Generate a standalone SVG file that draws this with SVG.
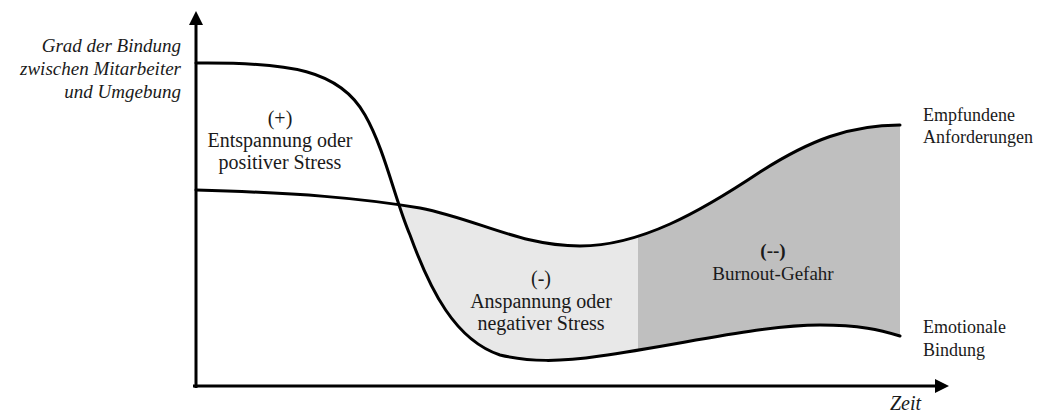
<svg xmlns="http://www.w3.org/2000/svg" width="1047" height="414" viewBox="0 0 1047 414">
<style>
.t{fill:#1a1a1a}
.c{text-anchor:middle}
.r{text-anchor:end}
.curve{fill:none;stroke:#000;stroke-width:3;stroke-linecap:round}
.axis{stroke:#000;stroke-width:3;fill:none}
</style>
<defs>
<path id="band" d="M196,190 C300,193 360,198 420,208 C480,220 520,246 580,246 C640,246 700,212 760,172 C810,140 850,125 900,125 L900,336 C880,330 860,325 820,325 C760,325 680,345 600,356 C560,362 530,362 500,355 C455,340 430,290 410,235 C395,200 385,150 365,115 C340,70 290,62 196,63 Z"/>
<clipPath id="cl"><rect x="400" y="0" width="238" height="414"/></clipPath>
<clipPath id="cd"><rect x="638" y="0" width="262" height="414"/></clipPath>
</defs>
<g id="regions">
<use href="#band" fill="#e8e8e8" clip-path="url(#cl)"/>
<use href="#band" fill="#bfbfbf" clip-path="url(#cd)"/>
</g>
<g id="axes">
<line class="axis" x1="196" y1="388" x2="196" y2="24"/>
<polygon points="196,11 189,25 203,25" fill="#000"/>
<line class="axis" x1="193" y1="386" x2="936" y2="386"/>
<polygon points="949,386 935,379 935,393" fill="#000"/>
</g>
<g id="connectors">
<path id="bindung" class="curve" d="M196,63 C290,62 340,70 365,115 C385,150 395,200 410,235 C430,290 455,340 500,355 C530,362 560,362 600,356 C680,345 760,325 820,325 C860,325 880,330 900,336"/>
<path id="anforderungen" class="curve" d="M196,190 C300,193 360,198 420,208 C480,220 520,246 580,246 C640,246 700,212 760,172 C810,140 850,125 900,125"/>
</g>
<g id="ylabel" font-family="Liberation Serif, serif" font-style="italic" font-size="19">
<text class="t r" x="181" y="52">Grad der Bindung</text>
<text class="t r" x="181" y="75">zwischen Mitarbeiter</text>
<text class="t r" x="181" y="98">und Umgebung</text>
</g>
<g id="xlabel" font-family="Liberation Serif, serif" font-style="italic" font-size="20"><text class="t r" x="921" y="410">Zeit</text></g>
<g id="plus" font-family="Liberation Serif, serif" font-size="20">
<text class="t c" x="280" y="125">(+)</text>
<text class="t c" x="280" y="147">Entspannung oder</text>
<text class="t c" x="280" y="169">positiver Stress</text>
</g>
<g id="minus" font-family="Liberation Serif, serif" font-size="20">
<text class="t c" x="541" y="285">(-)</text>
<text class="t c" x="541" y="308">Anspannung oder</text>
<text class="t c" x="541" y="330">negativer Stress</text>
</g>
<g id="burnout" font-family="Liberation Serif, serif" font-size="19">
<text class="t c" x="773" y="257" font-weight="bold">(--)</text>
<text class="t c" x="773" y="280">Burnout-Gefahr</text>
</g>
<g id="labelA" font-family="Liberation Serif, serif" font-size="18">
<text class="t" x="923" y="121">Empfundene</text>
<text class="t" x="923" y="143">Anforderungen</text>
</g>
<g id="labelB" font-family="Liberation Serif, serif" font-size="18">
<text class="t" x="923" y="333">Emotionale</text>
<text class="t" x="923" y="356">Bindung</text>
</g>
</svg>
